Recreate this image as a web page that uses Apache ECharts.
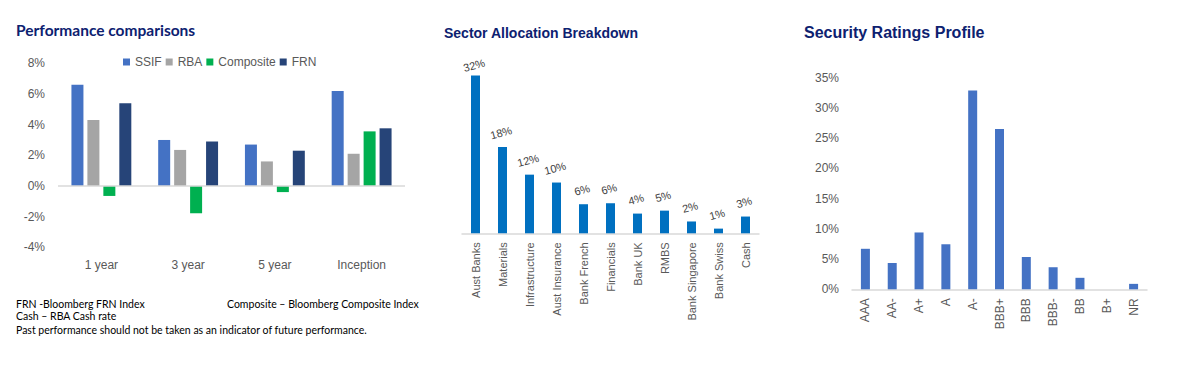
<!DOCTYPE html>
<html>
<head>
<meta charset="utf-8">
<script src="https://cdn.jsdelivr.net/npm/echarts@6/dist/echarts.min.js"></script>
<style>
html,body{margin:0;padding:0;background:#fff;}
#c{width:1200px;height:365px;}
</style>
</head>
<body>
<div id="c"></div>
<script>
// ---- Data: Performance comparisons ----
const perfCategories = ['1 year', '3 year', '5 year', 'Inception'];
const perfSSIF = [6.6, 3.0, 2.7, 6.2];
const perfRBA = [4.3, 2.35, 1.6, 2.1];
const perfComposite = [-0.65, -1.78, -0.4, 3.56];
const perfFRN = [5.4, 2.9, 2.3, 3.76];
const perfTicks = [-4, -2, 0, 2, 4, 6, 8];

// ---- Data: Sector Allocation Breakdown ----
const sectorCategories = ['Aust Banks', 'Materials', 'Infrastructure', 'Aust Insurance', 'Bank French', 'Financials', 'Bank UK', 'RMBS', 'Bank Singapore', 'Bank Swiss', 'Cash'];
const sectorValues = [32.0, 17.5, 11.9, 10.3, 5.9, 6.1, 4.0, 4.6, 2.4, 0.95, 3.4];

// ---- Data: Security Ratings Profile ----
const ratingCategories = ['AAA', 'AA-', 'A+', 'A', 'A-', 'BBB+', 'BBB', 'BBB-', 'BB', 'B+', 'NR'];
const ratingValues = [6.7, 4.35, 9.4, 7.45, 32.9, 26.5, 5.35, 3.65, 1.9, 0, 0.9];
const ratingTicks = [0, 5, 10, 15, 20, 25, 30, 35];

const navy = '#0D2170';
const gray = '#595959';
const axisGray = '#D9D9D9';
const sans = '"Liberation Sans", Arial, sans-serif';
const noteFont = '10.5px Lato, sans-serif';

const chart = echarts.init(document.getElementById('c'), null, {renderer: 'svg'});

const perfBar = (name, data, color) => ({
  name, type: 'bar', data, xAxisIndex: 0, yAxisIndex: 0,
  barWidth: 12, barGap: '33%',
  itemStyle: {color}
});

const sectorData = sectorValues.map((v, i) => i === 0 ? {value: v, label: {distance: 5}} : v);

const option = {
  animation: false,
  textStyle: {fontFamily: sans},
  title: [
    {text: 'Performance comparisons', left: 16, top: 22, padding: 0,
     textStyle: {fontFamily: 'Lato, sans-serif', fontWeight: 'bold', fontSize: 15.5, color: navy}},
    {text: 'Sector Allocation Breakdown', left: 444, top: 26, padding: 0,
     textStyle: {fontFamily: sans, fontWeight: 'bold', fontSize: 14, color: navy}},
    {text: 'Security Ratings Profile', left: 804, top: 24, padding: 0,
     textStyle: {fontFamily: sans, fontWeight: 'bold', fontSize: 16, color: navy}}
  ],
  legend: {
    data: ['SSIF', 'RBA', 'Composite', 'FRN'],
    left: 123, top: 56, padding: 0,
    itemWidth: 7, itemHeight: 7, itemGap: 4,
    icon: 'rect',
    textStyle: {fontSize: 12, color: gray, fontFamily: sans}
  },
  grid: [
    {left: 58, width: 347, top: 63.3, height: 184},
    {left: 462, width: 297, top: 60.8, height: 172.5},
    {left: 852, width: 295, top: 77.7, height: 211.6}
  ],
  xAxis: [
    {type: 'category', gridIndex: 0, data: perfCategories,
     axisLine: {show: false, onZero: false}, axisTick: {show: false},
     axisLabel: {fontSize: 12, color: gray, margin: 12}},
    {type: 'category', gridIndex: 1, data: sectorCategories,
     axisLine: {lineStyle: {color: axisGray, width: 1.5}}, axisTick: {show: false},
     axisLabel: {fontSize: 11, color: gray, rotate: 90, margin: 9, interval: 0}},
    {type: 'category', gridIndex: 2, data: ratingCategories,
     axisLine: {lineStyle: {color: axisGray, width: 1.5}}, axisTick: {show: false},
     axisLabel: {fontSize: 12, color: gray, rotate: 90, margin: 9, interval: 0}}
  ],
  yAxis: [
    {type: 'value', gridIndex: 0, min: perfTicks[0], max: perfTicks[perfTicks.length - 1], interval: 2,
     axisLine: {show: false}, axisTick: {show: false}, splitLine: {show: false},
     axisLabel: {fontSize: 12, color: gray, margin: 13, formatter: v => v + '%'}},
    {type: 'value', gridIndex: 1, min: 0, max: 35, show: false, splitLine: {show: false}},
    {type: 'value', gridIndex: 2, min: ratingTicks[0], max: ratingTicks[ratingTicks.length - 1], interval: 5,
     axisLine: {show: false}, axisTick: {show: false}, splitLine: {show: false},
     axisLabel: {fontSize: 12, color: gray, margin: 13, formatter: v => v + '%'}}
  ],
  series: [
    Object.assign(perfBar('SSIF', perfSSIF, '#4472C4'), {
      markLine: {silent: true, symbol: 'none', label: {show: false},
        lineStyle: {color: axisGray, type: 'solid', width: 1.5},
        data: [{yAxis: 0}]}
    }),
    perfBar('RBA', perfRBA, '#A5A5A5'),
    perfBar('Composite', perfComposite, '#00B050'),
    perfBar('FRN', perfFRN, '#264478'),
    {name: 'Sector', type: 'bar', xAxisIndex: 1, yAxisIndex: 1, data: sectorData,
     barWidth: 9, itemStyle: {color: '#0070C0'},
     label: {show: true, position: 'top', distance: 9, rotate: 15, fontSize: 11, color: '#404040',
       textBorderWidth: 0, textBorderColor: 'transparent',
       formatter: p => Math.round(p.value) + '%'}},
    {name: 'Rating', type: 'bar', xAxisIndex: 2, yAxisIndex: 2, data: ratingValues,
     barWidth: 9, itemStyle: {color: '#4472C4'}}
  ],
  graphic: [
    {type: 'text', left: 16, top: 298, style: {text: 'FRN -Bloomberg FRN Index', font: noteFont, fill: '#000'}},
    {type: 'text', left: 227, top: 298, style: {text: 'Composite \u2013 Bloomberg Composite Index', font: noteFont, fill: '#000'}},
    {type: 'text', left: 16, top: 310, style: {text: 'Cash \u2013 RBA Cash rate', font: noteFont, fill: '#000'}},
    {type: 'text', left: 16, top: 324, style: {text: 'Past performance should not be taken as an indicator of future performance.', font: noteFont, fill: '#000'}}
  ]
};
chart.setOption(option);
</script>
</body>
</html>
